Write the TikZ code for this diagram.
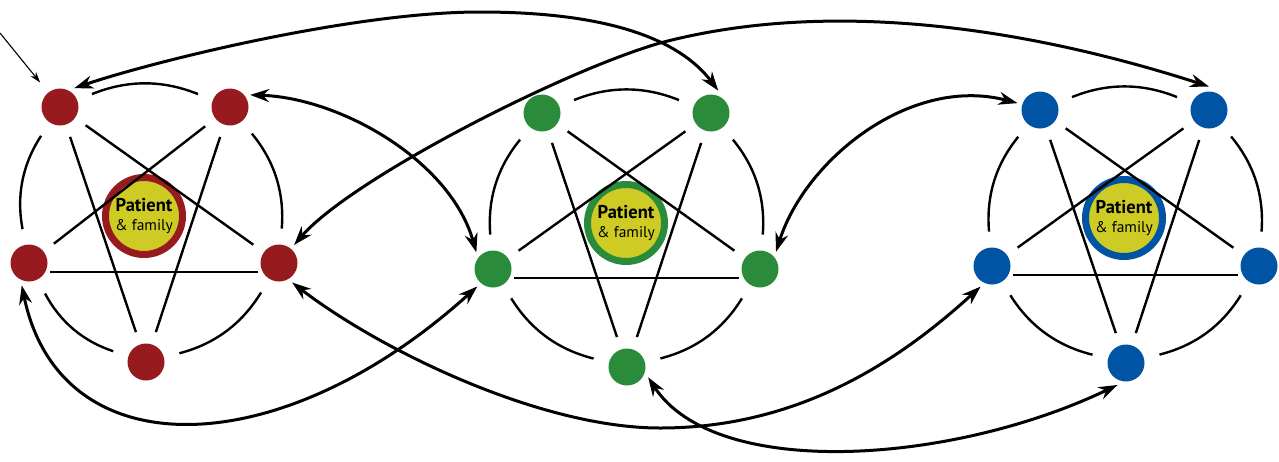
\documentclass[tikz,border=0pt]{standalone}
\usepackage{fontspec}
\setmainfont{PT Sans}
\usetikzlibrary{arrows.meta}
\definecolor{cred}{HTML}{971B1E}
\definecolor{cgreen}{HTML}{2A8C3B}
\definecolor{cblue}{HTML}{0153A4}
\definecolor{cyel}{HTML}{CDCB24}
\newcommand{\pentaweb}[1]{%
  \draw[rim] (#1TL) to (#1TR);
  \draw[rim] (#1TR) to (#1R);
  \draw[rim] (#1R) to (#1B);
  \draw[rim] (#1B) to (#1L);
  \draw[rim] (#1L) to (#1TL);
  \draw[star] (#1TL) -- (#1R);
  \draw[star] (#1TL) -- (#1B);
  \draw[star] (#1TR) -- (#1L);
  \draw[star] (#1TR) -- (#1B);
  \draw[line width=2.4pt, shorten <=21pt, shorten >=21pt] ([yshift=-9pt]#1L.center) -- ([yshift=-9pt]#1R.center);
}
\newcommand{\hubtext}{{\fontsize{18.5}{20}\selectfont\bfseries Patient}\\{\&\ family}}
\begin{document}
\begin{tikzpicture}[x=1pt,y=-1pt,
  dot/.style={circle, fill=#1, minimum size=37pt, inner sep=0pt, outer sep=5pt},
  hub/.style={circle, draw=#1, line width=7pt, fill=cyel, minimum size=77pt, inner sep=0pt, align=center, font=\fontsize{15.5}{19.5}\selectfont},
  rim/.style={line width=2.4pt, shorten <=11pt, shorten >=11pt, bend left=22},
  star/.style={line width=2.4pt, shorten <=8pt, shorten >=8pt},
  tip/.tip={Stealth[length=19pt,width=13pt]},
  link/.style={line width=3pt, tip-tip},
  feed/.style={line width=1.1pt, -{Stealth[length=11pt,width=7pt]}, shorten >=8pt}
]
\useasboundingbox (0,0) rectangle (1279,461);
% red cluster
\node[dot=cred] (rTL) at (60,107) {};
\node[dot=cred] (rTR) at (230,107) {};
\node[dot=cred] (rR) at (279,263) {};
\node[dot=cred] (rB) at (146,362) {};
\node[dot=cred] (rL) at (29,263) {};
\node[hub=cred] (rC) at (144,216) {\hubtext};
% green cluster
\node[dot=cgreen] (gTL) at (542,113) {};
\node[dot=cgreen] (gTR) at (711,113) {};
\node[dot=cgreen] (gR) at (760,269) {};
\node[dot=cgreen] (gB) at (627,367) {};
\node[dot=cgreen] (gL) at (493,269) {};
\node[hub=cgreen] (gC) at (626,223) {\hubtext};
% blue cluster
\node[dot=cblue] (bTL) at (1040,110) {};
\node[dot=cblue] (bTR) at (1209,110) {};
\node[dot=cblue] (bR) at (1259,266) {};
\node[dot=cblue] (bB) at (1126,363) {};
\node[dot=cblue] (bL) at (992,266) {};
\node[hub=cblue] (bC) at (1124,218) {\hubtext};

\pentaweb{r}
\pentaweb{g}
\pentaweb{b}

% links between clusters
\coordinate (m1) at (480,12);
\coordinate (m2) at (660,43);
\coordinate (m6) at (660,428);
\coordinate (entry) at (0,33);
\draw[link] (rTL.53) .. controls (148,63) and (350,12) .. (m1) .. controls (610,12) and (680,40) .. (gTR.72);
\draw[link] (rR.50) .. controls (350,180) and (560,72) .. (m2) .. controls (860,-10) and (1080,45) .. (bTR.90);
\draw[link] (rTR.31) .. controls (340,98) and (450,160) .. (gL.135);
\draw[link] (gR.47) .. controls (805,160) and (910,75) .. (bTL.163);
\draw[link] (rL.252) .. controls (60,470) and (280,465) .. (gL.228);
\draw[link] (rR.304) .. controls (380,350) and (540,428) .. (m6) .. controls (800,428) and (900,360) .. (bL.241);
\draw[link] (gB.334) .. controls (715,480) and (950,465) .. (bB.249);
\draw[feed] (entry) -- (rTL);
\end{tikzpicture}
\end{document}
